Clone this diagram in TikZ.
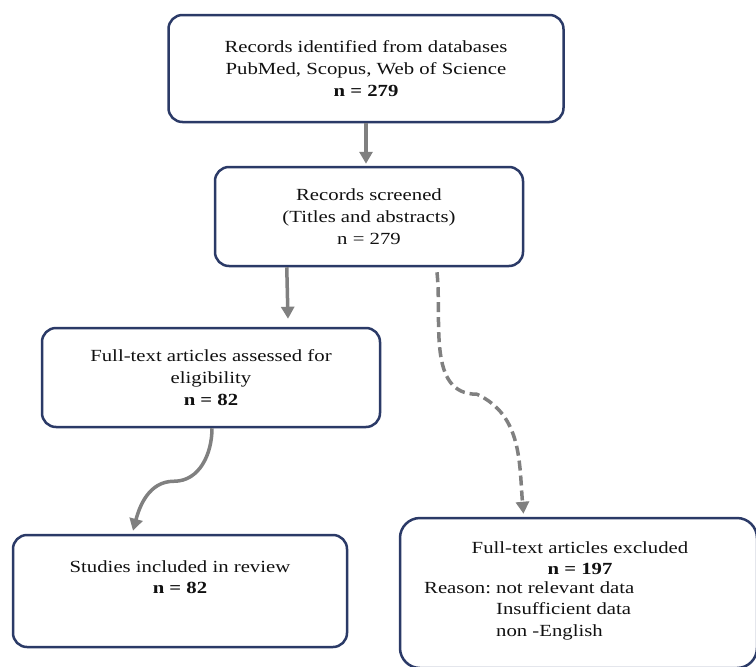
\documentclass[tikz,border=0pt]{standalone}
\usepackage{fontspec}
\setmainfont{Liberation Serif}[FakeStretch=1.22]
\usepackage{tikz}
\usetikzlibrary{arrows.meta}
\definecolor{boxblue}{HTML}{2B3A67}
\definecolor{arrowgray}{HTML}{808080}
\definecolor{textgray}{HTML}{111111}

\begin{document}
\begin{tikzpicture}[x=1pt,y=1pt,
	box/.style={draw=boxblue,line width=2.5pt,rounded corners=14pt,align=center,
		font=\fontsize{17}{22}\selectfont,text=textgray,inner sep=0pt},
	txt/.style={font=\fontsize{17}{21.5}\selectfont,text=textgray,inner sep=0pt},
	arr/.style={draw=arrowgray,line width=3.5pt,-{Triangle[length=12pt,width=13pt]}},
	dasharr/.style={arr,dash pattern=on 10pt off 5pt}]
	  \useasboundingbox (0,0) rectangle (756,-667);
	  \clip (0,0) rectangle (756,-667);
	  % boxes
	  \node[box,minimum width=395,minimum height=107] (ident) at (366,-68.5)
	    {Records identified from databases\\PubMed, Scopus, Web of Science\\\textbf{n = 279}};
	  \node[box,minimum width=308,minimum height=99] (screen) at (369,-216.5)
	    {Records screened\\(Titles and abstracts)\\n = 279};
	  \node[box,minimum width=338,minimum height=99] (elig) at (211,-377.5)
	    {Full-text articles assessed for\\eligibility\\\textbf{n = 82}};
	  \node[box,minimum width=334,minimum height=112] (incl) at (180,-591) {};
	  \node[box,rounded corners=20pt,minimum width=357,minimum height=150] (excl) at (578.5,-593) {};
	  \node[txt,align=center] (incltxt) at (180,-577) {Studies included in review\\\textbf{n = 82}};
	  \node[txt,align=center] (excltxt) at (580,-558) {Full-text articles excluded\\\textbf{n = 197}};
	  \node[txt,anchor=north west] (reason) at (424,-578)
	    {\begin{tabular}{@{}l@{\ }l@{}}Reason: & not relevant data\\ & Insufficient data\\ & non -English\end{tabular}};
	  % connectors
	  \draw[arr] (ident.south) -- ([yshift=2pt]screen.north -| ident.south);
	  \draw[arr] ([xshift=73pt]screen.south west) -- ([xshift=77pt,yshift=8pt]elig.north);
	  \draw[arr] ([xshift=1pt]elig.south) to[out=-90,in=0] ++(-38,-53)
	    to[out=180,in=75] ([xshift=-47pt,yshift=3pt]incl.north);
	  \draw[dasharr] ([xshift=68pt,yshift=-5pt]screen.south) to[out=-84,in=180] ++(40,-122)
	    to[out=-25,in=95] ([xshift=-55pt,yshift=3pt]excl.north);
	\end{tikzpicture}
\end{document}
